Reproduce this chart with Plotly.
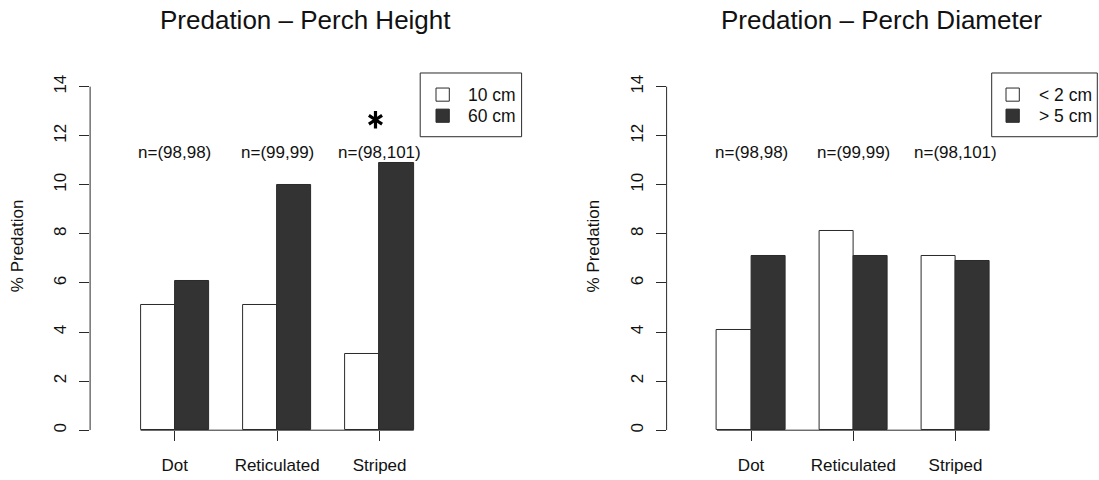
import plotly.graph_objects as go

# ---- data -------------------------------------------------------------
categories = ["Dot", "Reticulated", "Striped"]
sample_sizes = ["n=(98,98)", "n=(99,99)", "n=(98,101)"]

height_title = "Predation \u2013 Perch Height"
height_series = ["10 cm", "60 cm"]
height_low = [5.1, 5.1, 3.1]
height_high = [6.1, 10.0, 10.9]

diam_title = "Predation \u2013 Perch Diameter"
diam_series = ["< 2 cm", "> 5 cm"]
diam_small = [4.1, 8.1, 7.1]
diam_large = [7.1, 7.1, 6.9]

y_ticks = [0, 2, 4, 6, 8, 10, 12, 14]
y_label = "% Predation"
signif_group = "Striped"   # group marked with an asterisk in the height panel

# ---- geometry / style ---------------------------------------------------
W, H = 1099, 480
FONT = "Liberation Sans, Arial, sans-serif"
DARK = "#333333"
LINE = "#2a2a2a"
XR = [-0.48, 12.16]
YR = [0, 14.557]


def fx(p):
    return p / W


def fy(p):
    return 1 - p / H


# pixel extents of the two plot regions
panels = [
    dict(x0=90.1, x1=521.6, series=height_series, vals=(height_low, height_high),
         title=height_title, legend_sq=436.0, legend_tx=465.7, legend_box=(420.2, 521.6),
         ylab_x=17.5, star=True),
    dict(x0=666.6, x1=1097.3, series=diam_series, vals=(diam_small, diam_large),
         title=diam_title, legend_sq=1006.0, legend_tx=1036.7, legend_box=(991.7, 1097.3),
         ylab_x=593.8, star=False),
]
Y_TOP, Y_BOT = 73.3, 432.0

fig = go.Figure()
shapes, annotations = [], []

for k, p in enumerate(panels, start=1):
    xa = "x" if k == 1 else f"x{k}"
    ya = "y" if k == 1 else f"y{k}"
    centers = [2 + 3 * i for i in range(len(categories))]
    fills = ["white", DARK]
    for j, (vals, name) in enumerate(zip(p["vals"], p["series"])):
        fig.add_trace(go.Bar(
            x=[c - 0.5 + j for c in centers], y=vals, width=1, name=name,
            marker=dict(color=fills[j], line=dict(color=LINE, width=1)),
            xaxis=xa, yaxis=ya, showlegend=False, hoverinfo="x+y",
        ))

    # sample size labels above each group
    for c, s in zip(centers, sample_sizes):
        annotations.append(dict(x=c, y=11.3, xref=xa, yref=ya, text=s, showarrow=False,
                                font=dict(family=FONT, size=17, color="#111"),
                                xanchor="center", yanchor="middle"))

    # significance asterisk (six arms from two three-armed markers)
    if p["star"]:
        gi = categories.index(signif_group)
        for sym in ["y-up-open", "y-down-open"]:
            fig.add_trace(go.Scatter(
                x=[centers[gi] - 0.12], y=[12.65], mode="markers", xaxis=xa, yaxis=ya,
                marker=dict(symbol=sym, size=11, color="black",
                            line=dict(color="black", width=3.2)),
                showlegend=False, hoverinfo="skip"))

    # baseline under the bars (paper-referenced vertically so it is not clipped)
    shapes.append(dict(type="line", xref=xa, yref="paper", x0=centers[0] - 1, x1=centers[-1] + 1,
                       y0=fy(Y_BOT), y1=fy(Y_BOT), line=dict(color=LINE, width=1)))
    # y-axis line over the tick span only
    shapes.append(dict(type="line", xref=f"{xa} domain", yref=ya, x0=0, x1=0,
                       y0=y_ticks[0], y1=y_ticks[-1], line=dict(color=LINE, width=1)))

    # panel title and y label
    annotations.append(dict(x=fx((p["x0"] + p["x1"]) / 2), y=fy(20), xref="paper", yref="paper",
                            text=p["title"], showarrow=False, xanchor="center", yanchor="middle",
                            font=dict(family=FONT, size=26, color="#111")))
    annotations.append(dict(x=fx(p["ylab_x"]), y=fy(246.7), xref="paper", yref="paper",
                            text=y_label, showarrow=False, textangle=-90,
                            xanchor="center", yanchor="middle",
                            font=dict(family=FONT, size=17, color="#111")))

    # legend box
    bx0, bx1 = p["legend_box"]
    shapes.append(dict(type="rect", xref="paper", yref="paper", x0=fx(bx0), x1=fx(bx1),
                       y0=fy(137.3), y1=fy(Y_TOP), line=dict(color=LINE, width=1),
                       fillcolor="white"))
    for j, (name, yc) in enumerate(zip(p["series"], [95.0, 116.2])):
        shapes.append(dict(type="rect", xref="paper", yref="paper",
                           x0=fx(p["legend_sq"]), x1=fx(p["legend_sq"] + 13.3),
                           y0=fy(yc + 6.6), y1=fy(yc - 6.6),
                           line=dict(color=LINE, width=1), fillcolor=fills[j]))
        annotations.append(dict(x=fx(p["legend_tx"]), y=fy(yc), xref="paper", yref="paper",
                                text=name, showarrow=False, xanchor="left", yanchor="middle",
                                font=dict(family=FONT, size=17.5, color="#111")))

    axis_x = dict(domain=[fx(p["x0"]), fx(p["x1"])], range=XR, tickvals=centers,
                  ticktext=categories, ticks="outside", ticklen=10, tickwidth=1,
                  tickcolor=LINE, showline=False, showgrid=False, zeroline=False,
                  ticklabelstandoff=9, tickfont=dict(family=FONT, size=17, color="#111"),
                  anchor=ya, fixedrange=True)
    axis_y = dict(domain=[fy(Y_BOT), fy(Y_TOP)], range=YR, tickvals=y_ticks,
                  ticks="outside", ticklen=10, tickwidth=1, tickcolor=LINE,
                  showline=False, showgrid=False, zeroline=False, tickangle=-90,
                  ticklabelstandoff=6, tickfont=dict(family=FONT, size=17, color="#111"),
                  anchor=xa, fixedrange=True)
    if k == 1:
        fig.update_layout(xaxis=axis_x, yaxis=axis_y)
    else:
        fig.update_layout(**{f"xaxis{k}": axis_x, f"yaxis{k}": axis_y})

fig.update_layout(
    width=W, height=H, autosize=False,
    margin=dict(l=0, r=0, t=0, b=0),
    paper_bgcolor="white", plot_bgcolor="white",
    barmode="overlay", bargap=0,
    shapes=shapes, annotations=annotations,
    font=dict(family=FONT, color="#111"),
)

fig.write_html("out.html")
